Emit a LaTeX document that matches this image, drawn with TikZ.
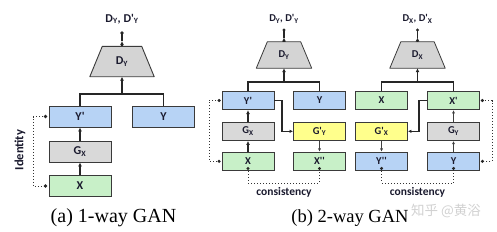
\documentclass[tikz,border=0pt]{standalone}
\usepackage{fontspec}
\setmainfont{Liberation Serif}
\newfontfamily\cf{Carlito}
\newfontfamily\cjk{Noto Sans CJK SC}
\usetikzlibrary{arrows.meta,backgrounds}
\definecolor{cblue}{HTML}{B7D3F5}
\definecolor{cgreen}{HTML}{C8F0C8}
\definecolor{cgray}{HTML}{D9D9D9}
\definecolor{cyel}{HTML}{FFFF8C}
\definecolor{ctrap}{HTML}{D4D4D4}
\definecolor{bline}{HTML}{3A3A3A}
\definecolor{ctext}{HTML}{1A1A2E}
\tikzset{
  boxL/.style={draw=bline, line width=0.9pt, minimum width=62pt, minimum height=21pt, inner sep=0pt, text=ctext, font=\cf\bfseries\fontsize{12}{14}\selectfont},
  boxM/.style={draw=bline, line width=0.8pt, minimum width=52pt, minimum height=18.5pt, inner sep=0pt, text=ctext, font=\cf\bfseries\fontsize{10.5}{12}\selectfont},
  trapL/.style={minimum width=64pt, minimum height=30pt, inner sep=0pt, text=ctext, font=\cf\bfseries\fontsize{12}{14}\selectfont},
  trapM/.style={minimum width=55pt, minimum height=26pt, inner sep=0pt, text=ctext, font=\cf\bfseries\fontsize{10.5}{12}\selectfont},
  trapline/.style={draw=bline, fill=ctrap, line width=0.9pt, line join=round},
  toplblL/.style={text=ctext, inner sep=0pt, font=\cf\bfseries\fontsize{12}{14}\selectfont},
  toplblM/.style={text=ctext, inner sep=0pt, font=\cf\bfseries\fontsize{10.5}{12}\selectfont},
  conn/.style={line width=1.1pt, draw=black!85},
  arr/.style={conn, -{Latex[length=4pt,width=4pt]}},
  arrthin/.style={line width=0.6pt, draw=black!75, -{Latex[length=3.2pt,width=3pt]}},
  dotline/.style={line width=1pt, dotted, draw=black!80},
  dotmark/.style={fill=black!85},
  sidelbl/.style={text=ctext, inner sep=0pt, font=\cf\bfseries\fontsize{12.5}{14}\selectfont},
  conslbl/.style={text=ctext, inner sep=0pt, font=\cf\bfseries\fontsize{11.5}{13}\selectfont},
}
\begin{document}
\begin{tikzpicture}[x=1pt,y=-1pt]
\useasboundingbox (0,0) rectangle (497,231);
% ===== (a) 1-way GAN =====
\node[boxL, fill=cblue] (ypl) at (80,116.5) {Y'};
\node[boxL, fill=cblue] (yl) at (163.5,116.5) {Y};
\node[boxL, fill=cgray] (gxl) at (80,151.5) {G\textsubscript{X}};
\node[boxL, fill=cgreen] (xl) at (80,186) {X};
\node[trapL] (dl) at (122,61.5) {D\textsubscript{Y}};
\begin{scope}[on background layer]
\draw[trapline] ([xshift=12.5pt]dl.north west) -- ([xshift=-12.5pt]dl.north east) -- (dl.south east) -- (dl.south west) -- cycle;
\end{scope}
\node[toplblL] (tl) at (122,19) {D\textsubscript{Y}, D'\textsubscript{Y}};
\coordinate (brl) at (122,94);
\coordinate (dotl) at (122,33);
\coordinate (tipl) at (122,41);
\draw[conn] (ypl.north) -- (ypl.north |- brl) -- (yl.north |- brl) -- (yl.north);
\draw[arr] (brl) -- (dl.south);
\draw[arr] (dl.north) -- (tipl);
\draw[conn] (tipl) -- (dotl);
\fill[dotmark] (dotl) circle (1.9pt);
\draw[arr] (xl.north) -- (gxl.south);
\draw[arr] (gxl.north) -- (ypl.south);
\coordinate (idA) at ([xshift=-3pt]ypl.west);
\coordinate (idB) at ([xshift=-3pt]xl.west);
\draw[dotline] (idA) -- (33,116.5) -- (33,186) -- (idB);
\fill[dotmark] (idA) circle (1.9pt);
\fill[dotmark] (idB) circle (1.9pt);
\node[sidelbl, rotate=90] (idl) at (20,150) {Identity};
\node[inner sep=0pt, font=\fontsize{20}{22}\selectfont] (capa) at (113.5,218) {(a) 1-way GAN};
% ===== (b) 2-way GAN, Y side =====
\node[boxM, fill=cblue] (ypm) at (248,100.5) {Y'};
\node[boxM, fill=cblue] (ym) at (319.5,100.5) {Y};
\node[boxM, fill=cgray] (gxm) at (248,131.3) {G\textsubscript{X}};
\node[boxM, fill=cyel] (gpym) at (319.5,131.3) {G'\textsubscript{Y}};
\node[boxM, fill=cgreen] (xm) at (248,161.3) {X};
\node[boxM, fill=cgreen] (xppm) at (319.5,161.3) {X''};
\node[trapM] (dm) at (284,55) {D\textsubscript{Y}};
\begin{scope}[on background layer]
\draw[trapline, line width=0.8pt] ([xshift=11pt]dm.north west) -- ([xshift=-11pt]dm.north east) -- (dm.south east) -- (dm.south west) -- cycle;
\end{scope}
\node[toplblM] (tm) at (284,19) {D\textsubscript{Y}, D'\textsubscript{Y}};
\coordinate (brm) at (284,82);
\coordinate (dotm) at (284,30);
\coordinate (tipm) at (284,37.5);
\draw[conn] (ypm.north) -- (ypm.north |- brm) -- (ym.north |- brm) -- (ym.north);
\draw[arr] (brm) -- (dm.south);
\draw[arr] (dm.north) -- (tipm);
\draw[conn] (tipm) -- (dotm);
\fill[dotmark] (dotm) circle (1.7pt);
\draw[arr] (xm.north) -- (gxm.south);
\draw[arr] (gxm.north) -- (ypm.south);
\draw[conn, -{Latex[length=3.5pt,width=3.5pt]}] (ypm.east) -- (282,100.5) -- (282,131.3) -- (gpym.west);
\draw[arrthin] (gpym.south) -- (xppm.north);
\coordinate (mA) at ([xshift=-2.5pt]ypm.west);
\coordinate (mB) at ([xshift=-2.5pt]xm.west);
\draw[dotline] (mA) -- (209,100.5) -- (209,161.3) -- (mB);
\fill[dotmark] (mA) circle (1.7pt);
\fill[dotmark] (mB) circle (1.7pt);
\coordinate (cmA) at ([yshift=2.5pt]xm.south);
\coordinate (cmB) at ([yshift=2.5pt]xppm.south);
\draw[dotline] (cmA) -- (248,183) -- (319.5,183) -- (cmB);
\fill[dotmark] (cmA) circle (1.7pt);
\fill[dotmark] (cmB) circle (1.7pt);
\node[conslbl] (consm) at (284,192) {consistency};
% ===== (b) 2-way GAN, X side =====
\node[boxM, fill=cgreen] (xr) at (381.5,100.5) {X};
\node[boxM, fill=cgreen] (xpr) at (453.5,100.5) {X'};
\node[boxM, fill=cyel] (gpxr) at (381.5,131.3) {G'\textsubscript{X}};
\node[boxM, fill=cgray] (gyr) at (453.5,131.3) {G\textsubscript{Y}};
\node[boxM, fill=cblue] (yppr) at (381.5,161.3) {Y''};
\node[boxM, fill=cblue] (yr) at (453.5,161.3) {Y};
\node[trapM] (dr) at (417.5,55) {D\textsubscript{X}};
\begin{scope}[on background layer]
\draw[trapline, line width=0.8pt] ([xshift=11pt]dr.north west) -- ([xshift=-11pt]dr.north east) -- (dr.south east) -- (dr.south west) -- cycle;
\end{scope}
\node[toplblM] (tr) at (417.5,19) {D\textsubscript{X}, D'\textsubscript{X}};
\coordinate (brr) at (417.5,82);
\coordinate (dotr) at (417.5,30);
\coordinate (tipr) at (417.5,37.5);
\draw[conn] (xr.north) -- (xr.north |- brr) -- (xpr.north |- brr) -- (xpr.north);
\draw[arr] (brr) -- (dr.south);
\draw[arr] (dr.north) -- (tipr);
\draw[conn] (tipr) -- (dotr);
\fill[dotmark] (dotr) circle (1.7pt);
\draw[arrthin] (yr.north) -- (gyr.south);
\draw[arrthin] (gyr.north) -- (xpr.south);
\draw[conn, -{Latex[length=3.5pt,width=3.5pt]}] (xpr.west) -- (419,100.5) -- (419,131.3) -- (gpxr.east);
\draw[arrthin] (gpxr.south) -- (yppr.north);
\coordinate (rA) at ([xshift=2.5pt]xpr.east);
\coordinate (rB) at ([xshift=2.5pt]yr.east);
\draw[dotline] (rA) -- (492,100.5) -- (492,161.3) -- (rB);
\fill[dotmark] (rA) circle (1.7pt);
\fill[dotmark] (rB) circle (1.7pt);
\coordinate (crA) at ([yshift=2.5pt]yppr.south);
\coordinate (crB) at ([yshift=2.5pt]yr.south);
\draw[dotline] (crA) -- (381.5,183) -- (453.5,183) -- (crB);
\fill[dotmark] (crA) circle (1.7pt);
\fill[dotmark] (crB) circle (1.7pt);
\node[conslbl] (consr) at (417.5,192) {consistency};
\node[inner sep=0pt, font=\fontsize{18.5}{21}\selectfont] (capb) at (350,218) {(b) 2-way GAN};
\node[inner sep=0pt, text=black!18, font=\cjk\fontsize{13.5}{15}\selectfont] (wm) at (446,211) {知乎 @黄浴};
\end{tikzpicture}
\end{document}
